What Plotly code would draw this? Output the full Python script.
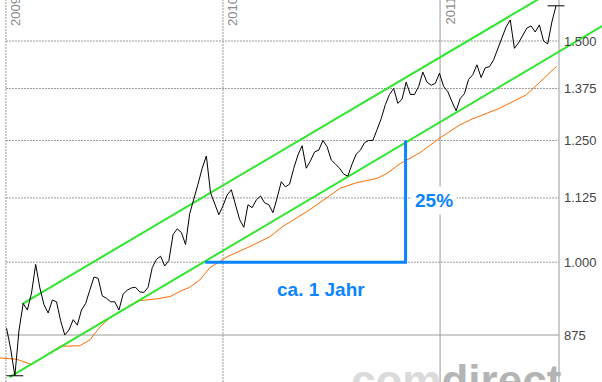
import numpy as np
import pandas as pd
import plotly.graph_objects as go

# ---------------- data ----------------
# weekly closing prices, starting 2009-01-02
week_start = "2009-01-02"
gold = [886, 853, 812, 883, 927, 916, 945, 996, 954, 925,
        911, 933, 930, 898, 875, 883, 900, 891, 916, 927,
        950, 973, 971, 940, 936, 930, 930, 916, 943, 950,
        954, 955, 947, 946, 955, 990, 1005, 1011, 993, 1003,
        1052, 1063, 1056, 1033, 1093, 1121, 1154, 1188, 1215, 1136,
        1111, 1091, 1109, 1131, 1142, 1111, 1081, 1066, 1111, 1105,
        1121, 1129, 1115, 1111, 1095, 1125, 1159, 1148, 1154, 1188,
        1217, 1238, 1188, 1204, 1224, 1228, 1250, 1236, 1206, 1197,
        1188, 1175, 1171, 1197, 1219, 1228, 1245, 1250, 1250, 1275,
        1301, 1335, 1360, 1375, 1338, 1348, 1391, 1360, 1360, 1380,
        1417, 1391, 1383, 1388, 1414, 1380, 1367, 1342, 1320, 1350,
        1362, 1398, 1410, 1436, 1403, 1428, 1431, 1449, 1478, 1511,
        1539, 1559, 1480, 1495, 1517, 1536, 1542, 1525, 1545, 1500,
        1492, 1553, 1600]

# moving average (orange)
ma_dates = ["2008-12-22", "2009-01-19", "2009-02-13", "2009-04-02", "2009-05-05",
            "2009-05-22", "2009-06-08", "2009-06-25", "2009-07-12", "2009-08-14",
            "2009-09-12", "2009-10-04", "2009-10-21", "2009-11-06", "2009-11-23",
            "2009-12-10", "2010-01-08", "2010-02-15", "2010-03-21", "2010-04-12",
            "2010-05-27", "2010-06-25", "2010-07-17", "2010-08-14", "2010-09-17",
            "2010-10-04", "2010-10-26", "2010-11-28", "2011-01-01", "2011-02-03",
            "2011-02-24", "2011-04-11", "2011-05-26", "2011-06-17", "2011-07-16"]
ma_vals = [839, 837, 829, 857, 858, 867, 888, 903, 913, 932,
           935, 939, 948, 955, 968, 990, 1010, 1029, 1048, 1068,
           1101, 1125, 1145, 1157, 1166, 1177, 1198, 1222, 1256, 1286,
           1300, 1326, 1359, 1390, 1432]

# trend channel (green)
upper_dates = ["2009-01-28", "2011-07-21"]
upper_vals = [926, 1657]
lower_dates = ["2009-01-07", "2011-10-13"]
lower_vals = [810, 1554]

# blue measurement
blue_dates = ["2009-12-02", "2010-11-04", "2010-11-04"]
blue_vals = [1000, 1000, 1250]

y_ticks = [875, 1000, 1125, 1250, 1375, 1500]
y_labels = ["875", "1.000", "1.125", "1.250", "1.375", "1.500"]
year_ticks = ["2009-01-01", "2010-01-01", "2011-01-01"]
year_labels = ["2009", "2010", "2011"]

# ---------------- layout constants ----------------
W, H = 602, 382
plot_right = 559
x_start = pd.Timestamp("2008-12-22")
x_end = pd.Timestamp("2011-07-20")          # date at the right frame line
x_full = x_start + (x_end - x_start) * (W / plot_right)   # date at the figure edge
y_range = [np.log10(802.8), np.log10(1617.1)]

GRID = "#9a9a9a"
BLUE = "#0a84ff"
GREEN = "#2ee62e"

dates = pd.date_range(week_start, periods=len(gold), freq="7D")
gold_arr = np.array(gold)
imin, imax = int(gold_arr.argmin()), int(gold_arr.argmax())

fig = go.Figure()

fig.add_trace(go.Scatter(x=ma_dates, y=ma_vals, mode="lines",
                         line=dict(color="#ff6a00", width=1), hoverinfo="skip"))
fig.add_trace(go.Scatter(x=upper_dates, y=upper_vals, mode="lines",
                         line=dict(color=GREEN, width=2), hoverinfo="skip"))
fig.add_trace(go.Scatter(x=lower_dates, y=lower_vals, mode="lines",
                         line=dict(color=GREEN, width=2), hoverinfo="skip"))
fig.add_trace(go.Scatter(x=dates, y=gold, mode="lines",
                         line=dict(color="black", width=1)))
fig.add_trace(go.Scatter(x=[dates[imin], dates[imax]], y=[gold[imin], gold[imax]],
                         mode="markers",
                         marker=dict(symbol="line-ew", size=12,
                                     line=dict(width=1, color="black")),
                         hoverinfo="skip"))
fig.add_trace(go.Scatter(x=blue_dates, y=blue_vals, mode="lines",
                         line=dict(color=BLUE, width=3), hoverinfo="skip"))

# grid lines
for v in y_ticks:
    fig.add_shape(type="line", xref="x", yref="y", x0=year_ticks[0], x1=x_end,
                  y0=v, y1=v, layer="below",
                  line=dict(color=GRID, width=1,
                            dash="solid" if v == y_ticks[0] else "2px,1px"))
for i, d in enumerate(year_ticks):
    fig.add_shape(type="line", xref="x", yref="y domain", x0=d, x1=d, y0=0, y1=1,
                  layer="below",
                  line=dict(color=GRID, width=1,
                            dash="solid" if i == len(year_ticks) - 1 else "2px,1px"))
    fig.add_annotation(x=d, y=1, xref="x", yref="paper", text=year_labels[i],
                       textangle=-90, xanchor="left", yanchor="top", yshift=5,
                       showarrow=False, font=dict(size=13, color="#8a8a8a",
                                                  family="Liberation Sans"))
# right frame line
fig.add_shape(type="line", xref="x", yref="y domain", x0=x_end, x1=x_end, y0=0, y1=1,
              layer="below", line=dict(color=GRID, width=1))

# annotation texts
fig.add_annotation(x="2010-12-21", y=np.log10(1120), text="<b>25%</b>", showarrow=False,
                   font=dict(size=19, color=BLUE, family="Liberation Sans"),
                   bgcolor="white", borderpad=3)
fig.add_annotation(x="2010-06-15", y=np.log10(952), text="<b>ca. 1 Jahr</b>",
                   showarrow=False,
                   font=dict(size=19, color=BLUE, family="Liberation Sans"))
fig.add_annotation(x=456.5 / W, y=0.004, xref="paper", yref="paper",
                   text="<b><span style='color:#dadada'>com</span>"
                        "<span style='color:#b4b4b4'>direct</span></b>",
                   showarrow=False, xanchor="center", yanchor="middle",
                   font=dict(size=44, family="Liberation Sans"))

fig.update_layout(
    width=W, height=H, template="none",
    margin=dict(l=0, r=0, t=0, b=0),
    paper_bgcolor="white", plot_bgcolor="white",
    showlegend=False,
    xaxis=dict(domain=[0, 1], range=[x_start, x_full], type="date",
               visible=False, showgrid=False, zeroline=False, automargin=False),
    yaxis=dict(type="log", range=y_range, side="right", anchor="free",
               position=plot_right / W, showgrid=False,
               zeroline=False, showline=False,
               tickvals=y_ticks, ticktext=y_labels, ticks="",
               ticklabelstandoff=4, automargin=False,
               tickfont=dict(size=13, color="#444444", family="Liberation Sans")),
)

fig.write_html("out.html")
